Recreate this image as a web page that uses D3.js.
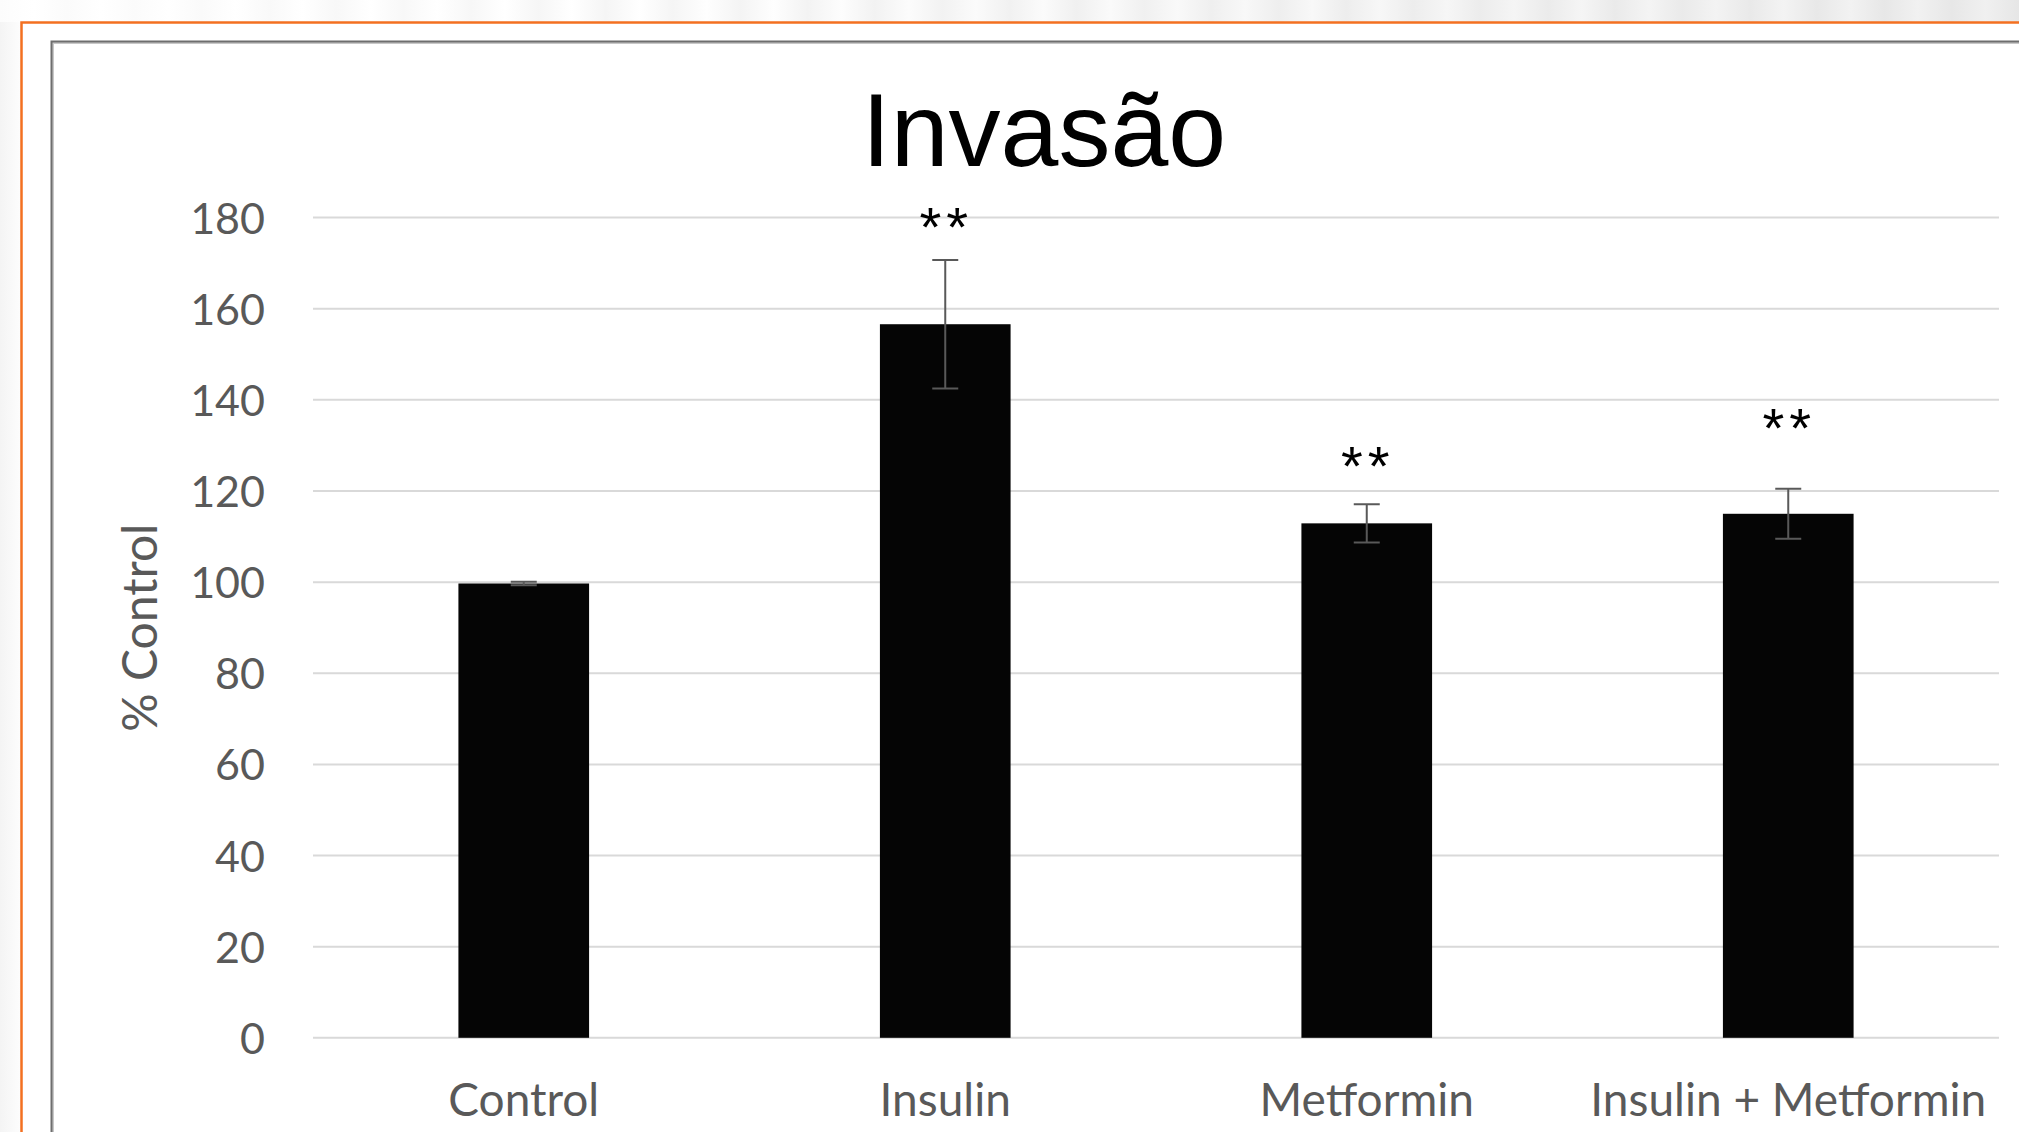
<!DOCTYPE html>
<html lang="pt">
<head>
    <meta charset="UTF-8">
    <title>Invasão</title>
    <script src="https://cdn.jsdelivr.net/npm/d3@7"></script>
    <style>
        html, body { margin: 0; padding: 0; background: #fff; overflow: hidden; }
    </style>
</head>
<body>
<script type="application/javascript">
    // dados
    const categories = ['Control', 'Insulin', 'Metformin', 'Insulin + Metformin'];
    const values = [99.7, 156.6, 112.9, 115.0];
    const errors = [0.4, 14.1, 4.2, 5.5];
    // posição (em % do controle) das marcas de significância
    const starLevels = [null, 179.3, 126.8, 135.1];
    const starLabels = ['', '**', '**', '**'];
    const yTicks = [0, 20, 40, 60, 80, 100, 120, 140, 160, 180];

    const w = 2019, h = 1132;

    let svg = d3.select('body')
        .append('svg')
        .attr('width', w)
        .attr('height', h);

    // fundo do slide (faixa listrada no topo e à esquerda)
    let defs = svg.append('defs');
    let stripes = defs.append('linearGradient')
        .attr('id', 'stripes')
        .attr('x1', 0).attr('x2', 1).attr('y1', 0).attr('y2', 0);
    const stripeStops = 60;
    for (let i = 0; i <= stripeStops; i++) {
        let t = i / stripeStops;
        let base = 252 - Math.round(t * 22);
        let c = i % 2 === 0 ? base : Math.min(255, base + 10);
        stripes.append('stop')
            .attr('offset', t)
            .attr('stop-color', d3.rgb(c, c, c));
    }
    svg.append('rect')
        .attr('x', 0).attr('y', 0)
        .attr('width', w).attr('height', 22)
        .attr('fill', 'url(#stripes)');
    let side = defs.append('linearGradient')
        .attr('id', 'side')
        .attr('x1', 0).attr('x2', 1).attr('y1', 0).attr('y2', 0);
    side.append('stop').attr('offset', 0).attr('stop-color', '#f4f4f4');
    side.append('stop').attr('offset', 1).attr('stop-color', '#fdfdfd');
    svg.append('rect')
        .attr('x', 0).attr('y', 22)
        .attr('width', 21).attr('height', h - 22)
        .attr('fill', 'url(#side)');

    // moldura laranja e borda do gráfico
    svg.append('path')
        .attr('d', `M21.5,${h} V22.5 H${w}`)
        .attr('fill', 'none')
        .attr('stroke', '#f37021')
        .attr('stroke-width', 2.5);
    svg.append('path')
        .attr('d', `M53,${h} V43 H${w}`)
        .attr('fill', 'none')
        .attr('stroke', '#c8c8c8')
        .attr('stroke-width', 2);
    svg.append('path')
        .attr('d', `M51.5,${h} V41.5 H${w}`)
        .attr('fill', 'none')
        .attr('stroke', '#6e6e6e')
        .attr('stroke-width', 2);

    const plotLeft = 313, plotRight = 1999, plotTop = 217.6, plotBottom = 1037.8;

    let xScale = d3.scaleBand()
        .domain(categories)
        .range([plotLeft, plotRight])
        .paddingInner(0.69)
        .paddingOuter(0.345);

    let yScale = d3.scaleLinear()
        .domain([0, 180])
        .range([plotBottom, plotTop]);

    const cx = i => xScale(categories[i]) + xScale.bandwidth() / 2;

    // rótulos do eixo y
    let yAxis = d3.axisLeft(yScale)
        .tickValues(yTicks)
        .tickSize(0)
        .tickPadding(48);

    let gy = svg.append('g')
        .attr('transform', `translate(${plotLeft},0)`)
        .call(yAxis);
    gy.select('.domain').remove();
    gy.selectAll('text')
        .attr('font-family', 'Lato, sans-serif')
        .attr('font-size', '43px')
        .attr('fill', '#595959')
        .attr('dy', '0.36em');

    // linhas de grade
    svg.append('g')
        .selectAll('line')
        .data(yTicks)
        .enter()
        .append('line')
        .attr('x1', plotLeft)
        .attr('x2', plotRight)
        .attr('y1', d => yScale(d))
        .attr('y2', d => yScale(d))
        .attr('stroke', '#d9d9d9')
        .attr('stroke-width', 2);

    // barras
    svg.append('g')
        .selectAll('rect')
        .data(values)
        .enter()
        .append('rect')
        .attr('x', (d, i) => xScale(categories[i]))
        .attr('y', d => yScale(d))
        .attr('width', xScale.bandwidth())
        .attr('height', d => yScale(0) - yScale(d))
        .attr('fill', '#050505');

    // barras de erro
    const cap = 13;
    svg.append('g')
        .attr('stroke', '#595959')
        .attr('stroke-width', 2)
        .attr('fill', 'none')
        .selectAll('path')
        .data(values)
        .enter()
        .append('path')
        .attr('d', (d, i) => {
            let x = cx(i);
            let y1 = yScale(d + errors[i]);
            let y2 = yScale(d - errors[i]);
            return `M${x - cap},${y1} H${x + cap} M${x},${y1} V${y2} M${x - cap},${y2} H${x + cap}`;
        });

    // asteriscos
    const stars = d3.range(categories.length).filter(i => starLevels[i] !== null);
    svg.append('g')
        .selectAll('text')
        .data(stars)
        .enter()
        .append('text')
        .attr('x', i => cx(i) + 1)
        .attr('y', i => yScale(starLevels[i]))
        .attr('dy', '0.45em')
        .attr('text-anchor', 'middle')
        .attr('font-family', 'Liberation Sans, Arial, sans-serif')
        .attr('font-size', '56px')
        .attr('letter-spacing', '5px')
        .attr('fill', '#000')
        .text(i => starLabels[i]);

    // eixo x
    let xAxis = d3.axisBottom(xScale).tickSize(0).tickPadding(0);
    let gx = svg.append('g')
        .attr('transform', `translate(0,${plotBottom})`)
        .call(xAxis);
    gx.select('.domain').remove();
    gx.selectAll('text')
        .attr('font-family', 'Lato, sans-serif')
        .attr('font-size', '46px')
        .attr('fill', '#595959')
        .attr('dy', null)
        .attr('y', 78);

    // título do eixo y
    svg.append('text')
        .attr('transform', `translate(157,${(plotTop + plotBottom) / 2}) rotate(-90)`)
        .attr('text-anchor', 'middle')
        .attr('font-family', 'Lato, sans-serif')
        .attr('font-size', '48px')
        .attr('fill', '#595959')
        .text('% Control');

    // título
    svg.append('text')
        .attr('x', 1044)
        .attr('y', 166)
        .attr('text-anchor', 'middle')
        .attr('font-family', 'Liberation Sans, Arial, sans-serif')
        .attr('font-size', '104px')
        .attr('fill', '#000')
        .text('Invasão');
</script>
</body>
</html>
